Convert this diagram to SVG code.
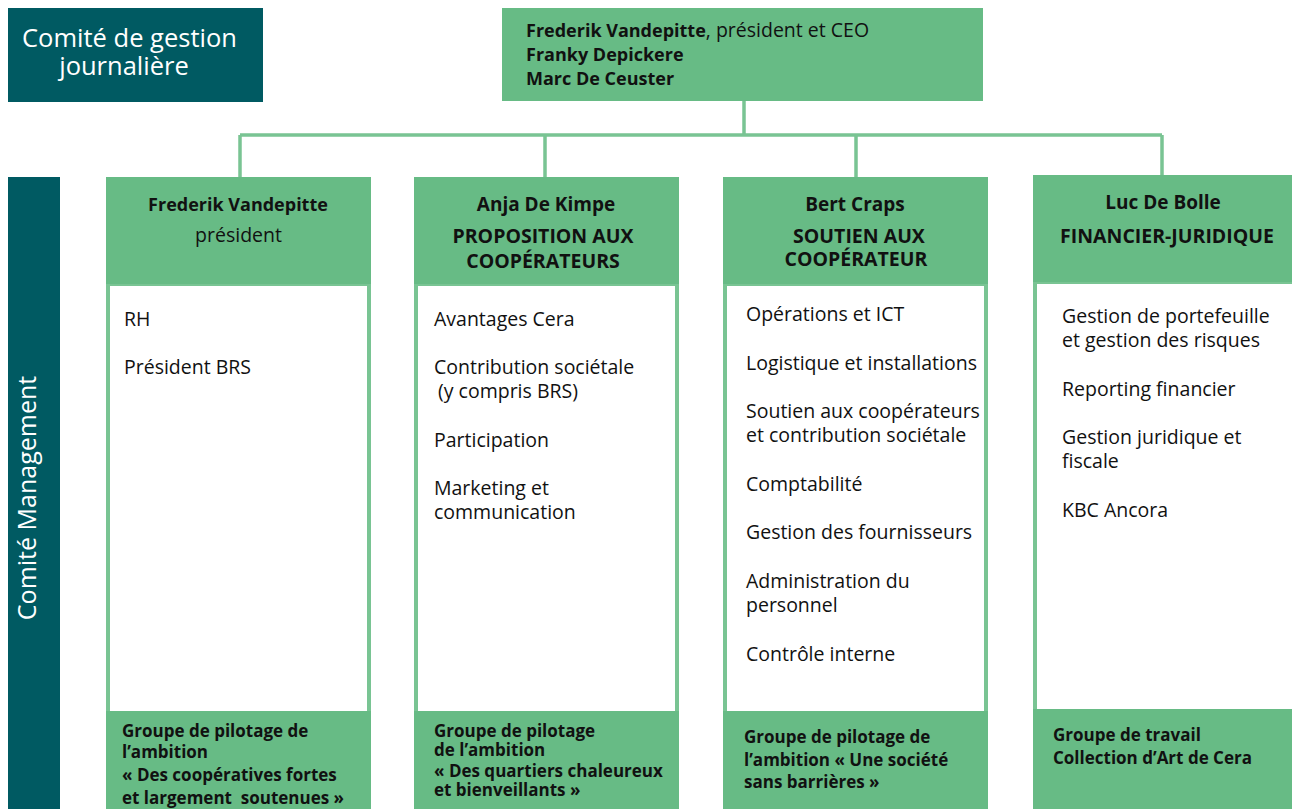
<svg xmlns="http://www.w3.org/2000/svg" width="1292" height="809" viewBox="0 0 1292 809">
<style>
text{font-family:"Open Sans","Noto Sans","Liberation Sans",sans-serif;fill:#111}
.dark{fill:#005a62}
.hdr{fill:#67bb85}
.body{fill:#fff;stroke:#79c493;stroke-width:4}
.conn{fill:none;stroke:#79c493;stroke-width:3.5}
.w{fill:#fff;font-size:25.5px}
.b{font-weight:700}
.h{font-size:18px;text-anchor:middle}
.n{font-size:19px;font-weight:700;text-anchor:middle}
.u{font-size:19.5px;font-weight:700;text-anchor:middle}
.t{font-size:19.5px}
.nb{font-size:18px;font-weight:700}
.g{font-size:17px;font-weight:700}
</style>
<rect width="1292" height="809" fill="#fff"/>
<g id="connectors">
<path class="conn" d="M744 101V135M240 135H1162M240 135V177M545 135V177M856 135V177M1162 135V177"/>
</g>
<g id="comite-gestion">
<rect class="dark" x="8" y="8" width="255" height="94"/>
<text class="w" x="129.5" y="47" text-anchor="middle">Comité de gestion</text>
<text class="w" x="124" y="75" text-anchor="middle">journalière</text>
</g>
<g id="top">
<rect class="hdr" x="502" y="8" width="481" height="93"/>
<text class="t" x="526" y="37"><tspan class="nb">Frederik Vandepitte</tspan>, président et CEO</text>
<text class="nb" x="526" y="61">Franky Depickere</text>
<text class="nb" x="526" y="85">Marc De Ceuster</text>
</g>
<g id="comite-management">
<rect class="dark" x="8" y="177" width="52" height="632"/>
<text class="w" transform="translate(36 498) rotate(-90)" text-anchor="middle" style="font-size:25px">Comité Management</text>
</g>
<g id="col1">
<rect class="body" x="108" y="284" width="261" height="440"/>
<rect class="hdr" x="106" y="177" width="265" height="107"/>
<rect class="hdr" x="106" y="711" width="265" height="98"/>
<text class="h b" x="238" y="211">Frederik Vandepitte</text>
<text class="h" x="238.5" y="242" style="font-size:19.5px">président</text>
<text class="t" x="124" y="326">RH</text>
<text class="t" x="124" y="374">Président BRS</text>
<text class="g" x="122" y="737">Groupe de pilotage de</text>
<text class="g" x="122" y="758">l’ambition</text>
<text class="g" x="122" y="781">« Des coopératives fortes</text>
<text class="g" x="122" y="804" xml:space="preserve">et largement  soutenues »</text>
</g>
<g id="col2">
<rect class="body" x="416" y="284" width="261" height="440"/>
<rect class="hdr" x="414" y="177" width="265" height="107"/>
<rect class="hdr" x="414" y="711" width="265" height="98"/>
<text class="n" x="546" y="211">Anja De Kimpe</text>
<text class="u" x="543" y="243">PROPOSITION AUX</text>
<text class="u" x="543" y="268">COOPÉRATEURS</text>
<text class="t" x="434" y="326">Avantages Cera</text>
<text class="t" x="434" y="374">Contribution sociétale</text>
<text class="t" x="438" y="398">(y compris BRS)</text>
<text class="t" x="434" y="447">Participation</text>
<text class="t" x="434" y="495">Marketing et</text>
<text class="t" x="434" y="519">communication</text>
<text class="g" x="434" y="737">Groupe de pilotage</text>
<text class="g" x="434" y="756">de l’ambition</text>
<text class="g" x="434" y="777">« Des quartiers chaleureux</text>
<text class="g" x="434" y="796">et bienveillants »</text>
</g>
<g id="col3">
<rect class="body" x="725" y="284" width="261" height="440"/>
<rect class="hdr" x="723" y="177" width="265" height="107"/>
<rect class="hdr" x="723" y="711" width="265" height="98"/>
<text class="n" x="855" y="211">Bert Craps</text>
<text class="u" x="859" y="243">SOUTIEN AUX</text>
<text class="u" x="856" y="266">COOPÉRATEUR</text>
<text class="t" x="746" y="321">Opérations et ICT</text>
<text class="t" x="746" y="370">Logistique et installations</text>
<text class="t" x="746" y="418">Soutien aux coopérateurs</text>
<text class="t" x="746" y="442">et contribution sociétale</text>
<text class="t" x="746" y="491">Comptabilité</text>
<text class="t" x="746" y="539">Gestion des fournisseurs</text>
<text class="t" x="746" y="588">Administration du</text>
<text class="t" x="746" y="612">personnel</text>
<text class="t" x="746" y="661">Contrôle interne</text>
<text class="g" x="744" y="743">Groupe de pilotage de</text>
<text class="g" x="744" y="766">l’ambition « Une société</text>
<text class="g" x="744" y="788">sans barrières »</text>
</g>
<g id="col4">
<rect class="body" x="1035" y="282" width="261" height="440"/>
<rect class="hdr" x="1033" y="175" width="265" height="107"/>
<rect class="hdr" x="1033" y="709" width="265" height="100"/>
<text class="n" x="1163" y="209">Luc De Bolle</text>
<text class="u" x="1167" y="243">FINANCIER-JURIDIQUE</text>
<text class="t" x="1062" y="323">Gestion de portefeuille</text>
<text class="t" x="1062" y="347">et gestion des risques</text>
<text class="t" x="1062" y="396">Reporting financier</text>
<text class="t" x="1062" y="444">Gestion juridique et</text>
<text class="t" x="1062" y="468">fiscale</text>
<text class="t" x="1062" y="517">KBC Ancora</text>
<text class="g" x="1053" y="741">Groupe de travail</text>
<text class="g" x="1053" y="764">Collection d’Art de Cera</text>
</g>
</svg>
